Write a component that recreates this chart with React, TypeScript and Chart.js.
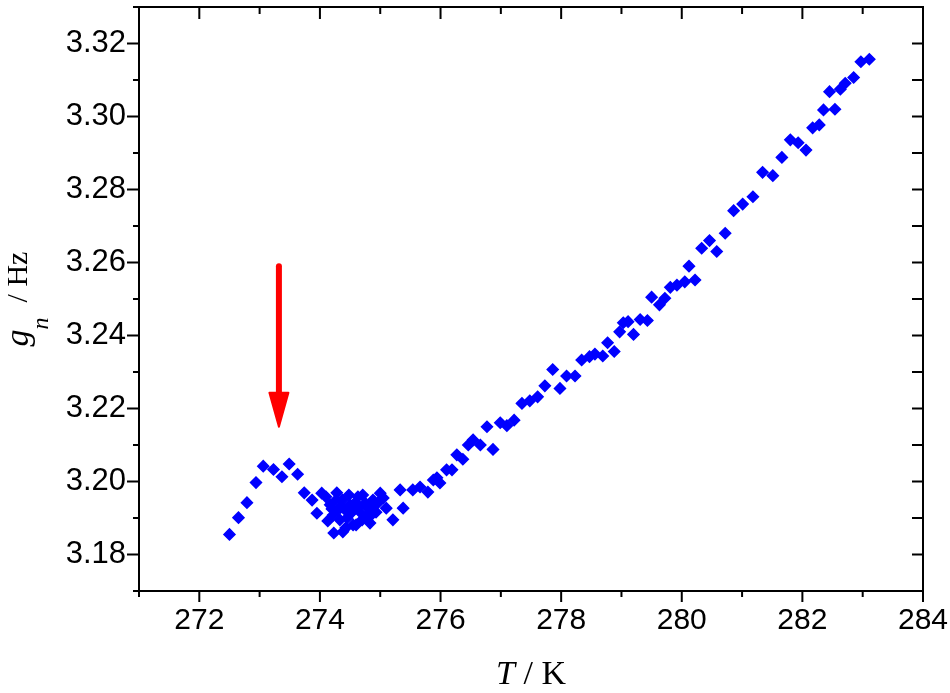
import React, { useEffect, useRef } from 'react';
import { Chart, registerables } from 'chart.js';

Chart.register(...registerables);

// Temperature T / K
const temperatureK = [
  272.50, 272.65, 272.79, 272.94, 273.06, 273.23, 273.37, 273.49, 273.63, 273.74, 273.87, 273.95, 274.03,
  274.10, 274.13, 274.17, 274.22, 274.23, 274.27, 274.28, 274.30, 274.33, 274.37, 274.38, 274.42, 274.43,
  274.48, 274.50, 274.53, 274.55, 274.58, 274.60, 274.63, 274.67, 274.70, 274.71, 274.75, 274.77, 274.81,
  274.83, 274.85, 274.88, 274.93, 274.96, 275.00, 275.05, 275.10,
  274.20, 274.35, 274.45, 274.57, 274.65, 274.90,
  275.21, 275.33, 275.38, 275.54, 275.66, 275.79, 275.88, 275.94, 275.99, 276.10, 276.19, 276.27, 276.37,
  276.46, 276.54, 276.66, 276.77, 276.87, 276.99, 277.10, 277.22, 277.35, 277.48, 277.61, 277.73, 277.86,
  277.98, 278.09, 278.23, 278.34, 278.47, 278.56, 278.69, 278.77, 278.88, 278.97, 279.03, 279.11, 279.20,
  279.31, 279.43, 279.50, 279.63, 279.72, 279.81, 279.92, 280.05, 280.12, 280.22, 280.33, 280.46, 280.58,
  280.72, 280.86, 281.01, 281.18, 281.34, 281.51, 281.66, 281.80, 281.93, 282.06, 282.17, 282.28, 282.35,
  282.45, 282.54, 282.63, 282.71, 282.85, 282.97, 283.11,
];

// g_n / Hz
const gnHz = [
  3.1855, 3.1901, 3.1942, 3.1997, 3.2042, 3.2033, 3.2013, 3.2048, 3.2020, 3.1969, 3.1949, 3.1913, 3.1968,
  3.1958, 3.1892, 3.1936, 3.1908, 3.1859, 3.1949, 3.1969, 3.1922, 3.1895, 3.1949, 3.1862, 3.1922, 3.1873,
  3.1963, 3.1936, 3.1916, 3.1881, 3.1941, 3.1881, 3.1958, 3.1916, 3.1895, 3.1963, 3.1941, 3.1905, 3.1927,
  3.1886, 3.1908, 3.1949, 3.1916, 3.1941, 3.1968, 3.1955, 3.1927,
  3.1925, 3.1930, 3.1900, 3.1925, 3.1932, 3.1935,
  3.1895, 3.1977, 3.1927, 3.1977, 3.1985, 3.1971, 3.2004, 3.2010, 3.1996, 3.2032, 3.2032, 3.2073, 3.2061,
  3.2100, 3.2114, 3.2100, 3.2150, 3.2088, 3.2161, 3.2153, 3.2168, 3.2214, 3.2221, 3.2232, 3.2262, 3.2307,
  3.2255, 3.2289, 3.2289, 3.2333, 3.2342, 3.2349, 3.2344, 3.2380, 3.2356, 3.2410, 3.2435, 3.2438, 3.2403,
  3.2444, 3.2441, 3.2505, 3.2484, 3.2502, 3.2532, 3.2538, 3.2547, 3.2590, 3.2552, 3.2639, 3.2660, 3.2630,
  3.2680, 3.2742, 3.2760, 3.2780, 3.2847, 3.2838, 3.2888, 3.2936, 3.2928, 3.2908, 3.2969, 3.2977, 3.3018,
  3.3068, 3.3020, 3.3075, 3.3091, 3.3107, 3.3150, 3.3157,
];

const xTickValues = [272, 274, 276, 278, 280, 282, 284];
const xMinorValues = [271, 273, 275, 277, 279, 281, 283];
const yTickValues = [3.18, 3.20, 3.22, 3.24, 3.26, 3.28, 3.30, 3.32];
const yMinorValues = [3.17, 3.19, 3.21, 3.23, 3.25, 3.27, 3.29, 3.31, 3.33];

const xRange = [271, 284];
const yRange = [3.17, 3.33];

// Red arrow marking the anomaly
const arrowT = 273.32;
const arrowFrom = 3.259;
const arrowTo = 3.215;

const SERIF = '"Liberation Serif", "Times New Roman", serif';
const SANS = '"Liberation Sans", Arial, sans-serif';

const framePlugin = {
  id: 'framePlugin',
  afterDatasetsDraw(chart: any) {
    const { ctx, scales } = chart;
    const x = scales.x;
    const y = scales.y;
    const px = x.getPixelForValue(arrowT);
    const y0 = y.getPixelForValue(arrowFrom);
    const y1 = y.getPixelForValue(arrowTo);
    const headLen = 34;
    const headHalf = 9.5;
    ctx.save();
    ctx.strokeStyle = '#FF0000';
    ctx.fillStyle = '#FF0000';
    ctx.lineWidth = 6;
    ctx.lineCap = 'round';
    ctx.beginPath();
    ctx.moveTo(px, y0);
    ctx.lineTo(px, y1 - headLen + 2);
    ctx.stroke();
    ctx.lineJoin = 'round';
    ctx.lineWidth = 2;
    ctx.beginPath();
    ctx.moveTo(px - headHalf, y1 - headLen);
    ctx.lineTo(px + headHalf, y1 - headLen);
    ctx.lineTo(px, y1);
    ctx.closePath();
    ctx.fill();
    ctx.stroke();
    ctx.restore();
  },
  afterDraw(chart: any) {
    const { ctx, chartArea: a, scales } = chart;
    const x = scales.x;
    const y = scales.y;
    ctx.save();
    ctx.strokeStyle = '#000';
    ctx.lineWidth = 2;
    ctx.lineCap = 'butt';
    ctx.strokeRect(a.left, a.top, a.right - a.left, a.bottom - a.top);
    ctx.beginPath();
    xTickValues.forEach((v) => {
      const p = x.getPixelForValue(v);
      ctx.moveTo(p, a.bottom); ctx.lineTo(p, a.bottom + 11);
      ctx.moveTo(p, a.top); ctx.lineTo(p, a.top + 12);
    });
    xMinorValues.forEach((v) => {
      const p = x.getPixelForValue(v);
      ctx.moveTo(p, a.bottom); ctx.lineTo(p, a.bottom + 6);
      ctx.moveTo(p, a.top); ctx.lineTo(p, a.top + 7);
    });
    yTickValues.forEach((v) => {
      const p = y.getPixelForValue(v);
      ctx.moveTo(a.left, p); ctx.lineTo(a.left - 12, p);
      ctx.moveTo(a.right, p); ctx.lineTo(a.right - 11, p);
    });
    yMinorValues.forEach((v) => {
      const p = y.getPixelForValue(v);
      ctx.moveTo(a.left, p); ctx.lineTo(a.left - 6, p);
      ctx.moveTo(a.right, p); ctx.lineTo(a.right - 11, p);
    });
    ctx.stroke();

    // X title: T / K
    ctx.fillStyle = '#000';
    ctx.textBaseline = 'alphabetic';
    ctx.textAlign = 'left';
    const fItal = `italic 34px ${SERIF}`;
    const fReg = `34px ${SERIF}`;
    ctx.font = fItal;
    const wT = ctx.measureText('T').width;
    ctx.font = fReg;
    const wRest = ctx.measureText(' / K').width;
    const cx = (a.left + a.right) / 2;
    const sx = cx - (wT + wRest) / 2;
    ctx.font = fItal;
    ctx.fillText('T', sx, 684);
    ctx.font = fReg;
    ctx.fillText(' / K', sx + wT, 684);

    // Y title: g_n / Hz (rotated)
    ctx.save();
    ctx.translate(28, (a.top + a.bottom) / 2);
    ctx.rotate(-Math.PI / 2);
    const fG = `italic 34px ${SERIF}`;
    const fN = `italic 24px ${SERIF}`;
    const fHz = `30px ${SERIF}`;
    ctx.font = fG;
    const wg = ctx.measureText('g').width;
    ctx.font = fN;
    const wn = ctx.measureText('n').width;
    ctx.font = fHz;
    const wHz = ctx.measureText('  / Hz').width;
    const total = wg + wn + wHz;
    const tx = -total / 2;
    ctx.font = fG;
    ctx.fillText('g', tx, 0);
    ctx.font = fN;
    ctx.fillText('n', tx + wg, 20);
    ctx.font = fHz;
    ctx.fillText('  / Hz', tx + wg + wn, -1);
    ctx.restore();
    ctx.restore();
  },
};

export default function App() {
  const canvasRef = useRef<HTMLCanvasElement | null>(null);

  useEffect(() => {
    const canvas = canvasRef.current;
    if (!canvas) return;
    const points = temperatureK.map((t, i) => ({ x: t, y: gnHz[i] }));
    const chart = new Chart(canvas, {
      type: 'scatter',
      data: {
        datasets: [
          {
            data: points,
            pointStyle: 'rectRot',
            pointRadius: 5.5,
            pointHoverRadius: 5.5,
            borderWidth: 1.5,
            backgroundColor: '#0000FF',
            borderColor: '#0000FF',
          },
        ],
      },
      options: {
        responsive: false,
        animation: false,
        events: [],
        layout: { padding: { top: 7, right: 27, left: 0, bottom: 0 } },
        plugins: {
          legend: { display: false },
          tooltip: { enabled: false },
        },
        scales: {
          x: {
            type: 'linear',
            min: xRange[0],
            max: xRange[1],
            grid: { display: false, drawTicks: false },
            border: { display: false },
            ticks: {
              color: '#000',
              font: { family: SANS, size: 30 },
              padding: 12,
              maxRotation: 0,
              autoSkip: false,
              callback: (v: any) => String(v),
            },
            afterBuildTicks: (s: any) => {
              s.ticks = xTickValues.map((v) => ({ value: v }));
            },
            afterFit: (s: any) => {
              s.height = 102;
              s.paddingLeft = 0;
              s.paddingRight = 0;
            },
          },
          y: {
            type: 'linear',
            min: yRange[0],
            max: yRange[1],
            grid: { display: false, drawTicks: false },
            border: { display: false },
            ticks: {
              color: '#000',
              font: { family: SANS, size: 31 },
              padding: 13,
              autoSkip: false,
              callback: (v: any) => Number(v).toFixed(2),
            },
            afterBuildTicks: (s: any) => {
              s.ticks = yTickValues.map((v) => ({ value: v }));
            },
            afterFit: (s: any) => {
              s.width = 139;
              s.paddingTop = 0;
              s.paddingBottom = 0;
            },
          },
        },
      },
      plugins: [framePlugin],
    });
    return () => chart.destroy();
  }, []);

  return (
    <div style={{ position: 'absolute', left: 0, top: 0, width: 950, height: 693, background: '#fff' }}>
      <canvas ref={canvasRef} width={950} height={693} style={{ display: 'block' }} />
    </div>
  );
}
